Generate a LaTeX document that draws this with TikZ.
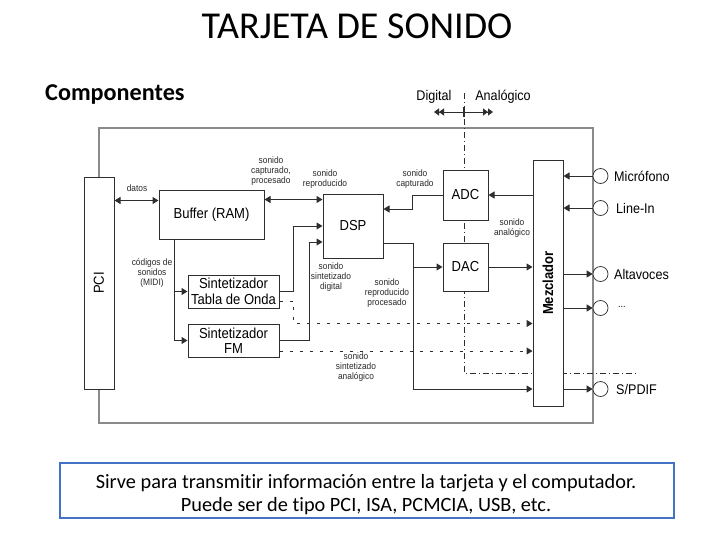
\documentclass[tikz,border=0pt]{standalone}
\usepackage{fontspec}
\setmainfont{Carlito}[Ligatures=NoCommon]
\newfontfamily\diag[FakeStretch=0.9]{Liberation Sans}
\usetikzlibrary{arrows.meta,calc}
\definecolor{linec}{HTML}{2E2E2E}
\definecolor{boardc}{HTML}{8A8A8A}
\definecolor{txtc}{HTML}{2A2A2A}
\definecolor{boxblue}{HTML}{4472C4}
\begin{document}
\begin{tikzpicture}[x=1pt,y=-1pt,
 box/.style={draw=linec, line width=1pt, fill=white, inner sep=0pt, font=\diag\fontsize{14.5}{15.5}\selectfont, align=center},
 lbl/.style={font=\diag\fontsize{9.3}{10}\selectfont, align=center, inner sep=0pt, text=txtc},
 port/.style={draw=linec, line width=0.7pt, circle, minimum size=15pt, inner sep=0pt, fill=white},
 plab/.style={font=\diag\fontsize{14}{16}\selectfont, anchor=west, inner sep=0pt},
 conn/.style={draw=linec, line width=1pt},
 arr/.style={conn, -{Triangle[length=6pt,width=7pt]}},
 dbl/.style={conn, {Triangle[length=6pt,width=7pt]}-{Triangle[length=6pt,width=7pt]}},
 dasharr/.style={arr, dash pattern=on 3pt off 7pt},
 divline/.style={draw=linec, line width=0.7pt, dash pattern=on 6pt off 3pt on 1pt off 3pt},
 dblhead/.style={conn, {Triangle[length=5pt,width=7pt] Triangle[length=5pt,width=7pt]}-{Triangle[length=5pt,width=7pt] Triangle[length=5pt,width=7pt]}}
]
\useasboundingbox (0,0) rectangle (728,546);
\fill[white] (0,0) rectangle (728,546);

% titles
\node[font=\fontsize{38}{42}\selectfont, anchor=base, inner sep=0pt] (title) at (357,38) {TARJETA DE SONIDO};
\node[font=\bfseries\fontsize{24.2}{27}\selectfont, anchor=base west, inner sep=0pt] (comp) at (45,100) {Componentes};

% board outline
\coordinate (b1) at (99,177);
\coordinate (b2) at (99,128);
\coordinate (b3) at (593,128);
\coordinate (b4) at (593,423);
\coordinate (b5) at (99,423);
\coordinate (b6) at (99,389);
\draw[boardc, line width=1.4pt] (b1) -- (b2) -- (b3) -- (b4) -- (b5) -- (b6);

% digital / analog divider
\coordinate (vt) at (464,93);
\coordinate (vb) at (464,373);
\coordinate (ve) at (638,373);
\draw[divline] (vt) -- (vb) -- (ve);
\node[font=\diag\fontsize{14}{16}\selectfont, inner sep=0pt] (dig) at (434,97) {Digital};
\node[font=\diag\fontsize{14}{16}\selectfont, inner sep=0pt] (ana) at (503,97) {Analógico};
\coordinate (dl) at (434,112);
\coordinate (dr) at (493,112);
\draw[dblhead] (dl) -- (dr);
\coordinate (tk1) at (464,107);
\coordinate (tk2) at (464,117);
\draw[linec, line width=2.2pt] (tk1) -- (tk2);

% blocks
\node[box, minimum width=30pt, minimum height=212pt] (pci) at (99,283) {\rotatebox{90}{PCI}};
\node[box, minimum width=105pt, minimum height=49pt] (buf) at (211.5,214.5) {Buffer (RAM)};
\node[box, minimum width=60pt, minimum height=64pt] (dsp) at (353,226) {DSP};
\node[box, minimum width=45pt, minimum height=50pt] (adc) at (465.5,195) {ADC};
\node[box, minimum width=45pt, minimum height=48pt] (dac) at (465.5,267) {DAC};
\node[box, minimum width=91pt, minimum height=33pt] (tab) at (233.5,291.5) {Sintetizador\\Tabla de Onda};
\node[box, minimum width=91pt, minimum height=33pt] (fm) at (233.5,340.5) {Sintetizador\\FM};
\node[box, minimum width=30pt, minimum height=246pt] (mez) at (548,283) {\rotatebox{90}{\bfseries Mezclador}};

% ports
\node[port] (mic) at (600.5,176) {};
\node[port] (lin) at (600.5,208) {};
\node[port] (alt) at (600.5,274) {};
\node[port] (dots) at (600.5,308) {};
\node[port] (spd) at (600.5,389) {};
\node[plab] (micl) at (614,176) {Micrófono};
\node[plab] (linl) at (616,208) {Line-In};
\node[plab] (altl) at (614,274) {Altavoces};
\node[plab, font=\diag\fontsize{10}{12}\selectfont] (dotl) at (618,307) {...};
\node[plab] (spdl) at (616,389) {S/PDIF};

% small labels
\node[lbl] (l1) at (271,171) {sonido\\capturado,\\procesado};
\node[lbl] (l2) at (137,188) {datos};
\node[lbl] (l3) at (325,179) {sonido\\reproducido};
\node[lbl] (l4) at (415,179) {sonido\\capturado};
\node[lbl] (l5) at (152,273) {códigos de\\sonidos\\(MIDI)};
\node[lbl] (l6) at (331,277) {sonido\\sintetizado\\digital};
\node[lbl] (l7) at (387,293) {sonido\\reproducido\\procesado};
\node[lbl] (l8) at (512,228) {sonido\\analógico};
\node[lbl] (l9) at (356,367) {sonido\\sintetizado\\analógico};

% connectors
\coordinate (bw) at ($(buf.north west)+(0,11)$);
\draw[dbl] (pci.east |- bw) -- (bw);
\coordinate (dw1) at ($(dsp.north west)+(0,6)$);
\draw[dbl] (buf.east |- dw1) -- (dw1);
\draw[arr] (tab.east) -- ++(14,0) |- (dsp.west);
\coordinate (dw3) at ($(dsp.west)+(0,16)$);
\draw[arr] (fm.east) -- ++(30,0) |- (dw3);
\coordinate (de1) at ($(dsp.east)+(0,-17)$);
\draw[arr] (adc.west) -- ++(-30,0) |- (de1);
\coordinate (de2) at ($(dsp.east)+(0,17)$);
\coordinate (jn) at ($(de2)+(30,0)$);
\draw[arr] (de2) -- (jn) |- (mez.west |- spd.west);
\draw[arr] (jn |- dac.west) -- (dac.west);
\draw[arr] (dac.east) -- (mez.west |- dac.east);
\draw[arr] (mez.west |- adc.east) -- (adc.east);
\draw[arr] (mic.west) -- (mez.east |- mic.west);
\draw[arr] (lin.west) -- (mez.east |- lin.west);
\draw[arr] (mez.east |- alt.west) -- (alt.west);
\draw[arr] (mez.east |- dots.west) -- (dots.west);
\draw[arr] (mez.east |- spd.west) -- (spd.west);
\coordinate (bs) at ($(buf.south west)+(16,0)$);
\draw[arr] (bs) |- (fm.west);
\draw[arr] (bs |- tab.west) -- (tab.west);
\coordinate (td) at ($(tab.east)+(0,9.5)$);
\draw[dasharr] (td) -- ++(14,0) |- (mez.west |- fm.north);
\coordinate (fd) at ($(fm.east)+(0,10.5)$);
\draw[dasharr] (fd) -- (mez.west |- fd);

% note box
\node[draw=boxblue, line width=2.5pt, minimum width=614pt, minimum height=55pt, inner sep=0pt] (note) at (367,490.5) {};
\node[font=\fontsize{20.3}{23}\selectfont, anchor=base, inner sep=0pt] (n1) at (366,488) {Sirve para transmitir información entre la tarjeta y el computador.};
\node[font=\fontsize{20.3}{23}\selectfont, anchor=base, inner sep=0pt] (n2) at (366,511) {Puede ser de tipo PCI, ISA, PCMCIA, USB, etc.};
\end{tikzpicture}
\end{document}
